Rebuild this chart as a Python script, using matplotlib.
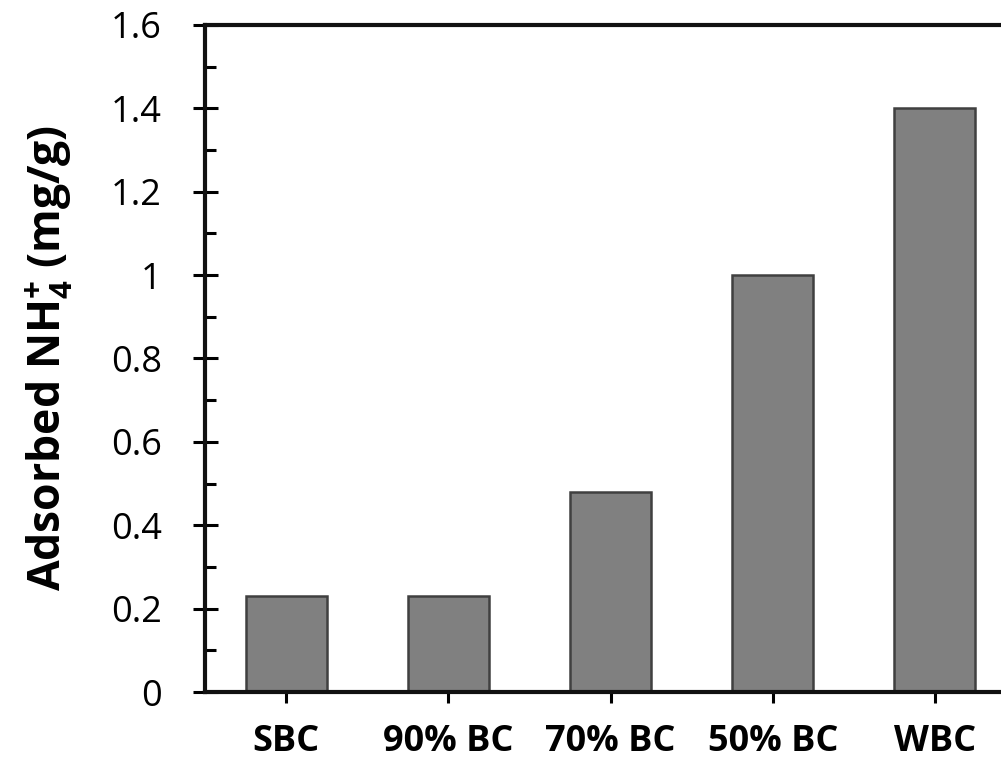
import matplotlib
matplotlib.use('Agg')
import matplotlib.pyplot as plt
from matplotlib.ticker import MultipleLocator

categories = ['SBC', '90% BC', '70% BC', '50% BC', 'WBC']
adsorbed = [0.23, 0.23, 0.48, 1.0, 1.4]
yticks = [0, 0.2, 0.4, 0.6, 0.8, 1.0, 1.2, 1.4, 1.6]
ytick_labels = ['0', '0.2', '0.4', '0.6', '0.8', '1', '1.2', '1.4', '1.6']

plt.rcParams['font.family'] = ['Open Sans', 'DejaVu Sans']
plt.rcParams['mathtext.fontset'] = 'custom'
plt.rcParams['mathtext.rm'] = 'Open Sans'
plt.rcParams['mathtext.bf'] = 'Open Sans:bold'

fig = plt.figure(figsize=(10.01, 7.66), dpi=100)
ax = fig.add_axes([0.2048, 0.0966, 0.8102, 0.8708])

ax.bar(range(len(categories)), adsorbed, width=0.5, color='#808080',
       edgecolor='#404040', linewidth=1.8)

ax.set_xlim(-0.5, 4.5)
ax.set_ylim(0, 1.6)
ax.set_xticks(range(len(categories)))
ax.set_xticklabels(categories, fontsize=26, fontweight='bold')
ax.set_yticks(yticks)
ax.set_yticklabels(ytick_labels, fontsize=26)
ax.yaxis.set_minor_locator(MultipleLocator(0.1))

ax.tick_params(axis='y', which='major', direction='inout', length=18, width=2.2, pad=22)
ax.tick_params(axis='y', which='minor', direction='in', length=8, width=2.2)
ax.tick_params(axis='x', which='major', direction='out', length=8, width=2.2, pad=15)

for s in ['left', 'bottom', 'top', 'right']:
    ax.spines[s].set_linewidth(3)
    ax.spines[s].set_color('#111111')

ax.set_ylabel(r'Adsorbed NH$_\mathbf{4}^\mathbf{+}$ (mg/g)', fontsize=32,
              fontweight='bold', labelpad=26)

fig.savefig('out.png', dpi=100)
